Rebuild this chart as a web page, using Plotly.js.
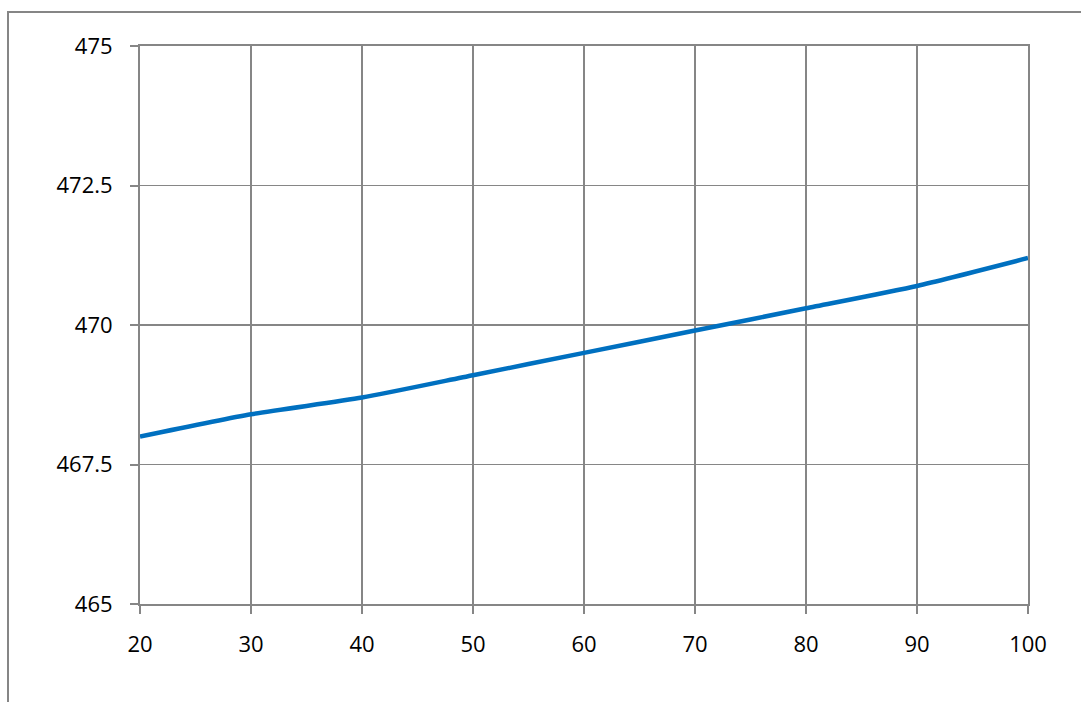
<!DOCTYPE html>
<html>
<head>
<meta charset="utf-8">
<script src="https://cdn.plot.ly/plotly-3.0.1.min.js"></script>
<style>
html,body{margin:0;padding:0;background:#fff;}
#frame{position:absolute;left:7px;top:11px;width:1200px;height:800px;border-left:2px solid #868686;border-top:2px solid #868686;}
#chart{position:absolute;left:0;top:0;width:1081px;height:702px;}
</style>
</head>
<body>
<div id="frame"></div>
<div id="chart"></div>
<script>
const xValues = [20, 30, 40, 50, 60, 70, 80, 90, 100];
const yValues = [468.0, 468.4, 468.7, 469.1, 469.5, 469.9, 470.3, 470.7, 471.2];
const xTicks = [20, 30, 40, 50, 60, 70, 80, 90, 100];
const yTicks = [465, 467.5, 470, 472.5, 475];
const yTickText = ["465", "467.5", "470", "472.5", "475"];

const trace = {
  x: xValues, y: yValues, type: 'scatter', mode: 'lines',
  line: {color: '#0070C0', width: 4.5, shape: 'spline', smoothing: 0.6},
  hoverinfo: 'skip'
};
const axisFont = {family: 'Open Sans, Liberation Sans, sans-serif', size: 22, color: '#000'};
const layout = {
  width: 1081, height: 702,
  margin: {l: 140, r: 53, t: 46, b: 98},
  paper_bgcolor: 'rgba(0,0,0,0)', plot_bgcolor: 'rgba(0,0,0,0)',
  showlegend: false,
  xaxis: {
    range: [20, 100], tickvals: xTicks, ticktext: xTicks.map(String),
    showgrid: true, gridcolor: '#868686', gridwidth: 1.5,
    showline: true, linecolor: '#868686', linewidth: 2, mirror: true,
    ticks: 'outside', ticklen: 8, tickcolor: '#868686', tickwidth: 2,
    ticklabelstandoff: 12,
    tickfont: axisFont, zeroline: false
  },
  yaxis: {
    range: [465, 475], tickvals: yTicks, ticktext: yTickText,
    showgrid: true, gridcolor: '#868686', gridwidth: 1.5,
    showline: true, linecolor: '#868686', linewidth: 2, mirror: true,
    ticks: 'outside', ticklen: 8, tickcolor: '#868686', tickwidth: 2,
    ticklabelstandoff: 13,
    tickfont: axisFont, zeroline: false
  }
};
Plotly.newPlot('chart', [trace], layout, {displayModeBar: false, staticPlot: true});
</script>
</body>
</html>
